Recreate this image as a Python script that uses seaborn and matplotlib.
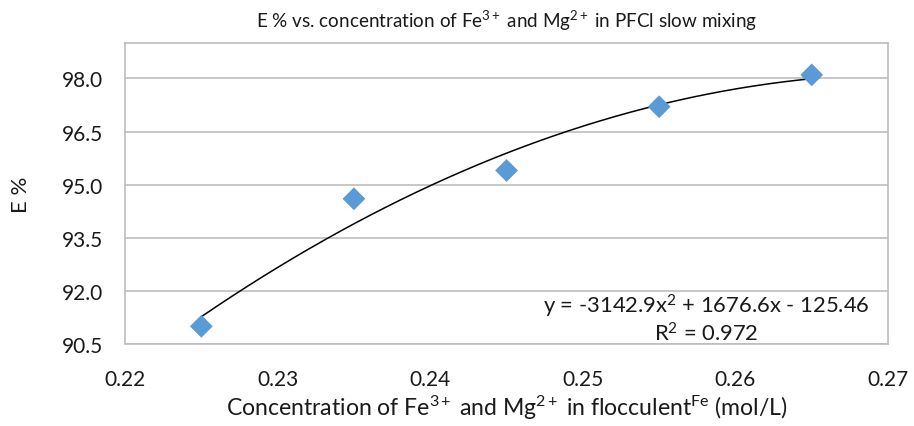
import matplotlib
matplotlib.use("Agg")
import matplotlib.pyplot as plt
import numpy as np
import pandas as pd
import seaborn as sns

# data
conc = [0.225, 0.235, 0.245, 0.255, 0.265]
e_pct = [91.0, 94.6, 95.4, 97.2, 98.1]
x_ticks = [0.22, 0.23, 0.24, 0.25, 0.26, 0.27]
y_ticks = [90.5, 92.0, 93.5, 95.0, 96.5, 98.0]
eq_text = "y = -3142.9x$^{\\mathrm{2}}$ + 1676.6x - 125.46\nR$^{\\mathrm{2}}$ = 0.972"

sns.set_style("white")
plt.rcParams['font.family'] = ['Lato', 'DejaVu Sans']
plt.rcParams['mathtext.fontset'] = 'custom'
plt.rcParams['mathtext.rm'] = 'Lato'
plt.rcParams['mathtext.it'] = 'Lato:italic'

df = pd.DataFrame({"conc": conc, "E": e_pct})

# quadratic trendline fitted to the points
coef = np.polyfit(df.conc, df.E, 2)
xs = np.linspace(min(conc), max(conc), 200)
trend = pd.DataFrame({"conc": xs, "E": np.polyval(coef, xs)})

fig = plt.figure(figsize=(9.14, 4.27), dpi=100)
ax = fig.add_axes([0.1368, 0.192, 0.8348, 0.705])

for y in y_ticks:
    ax.axhline(y, color="#bdbdbd", lw=1.2, zorder=0)

sns.lineplot(data=trend, x="conc", y="E", color="black", lw=1.1, ax=ax, zorder=2)
sns.scatterplot(data=df, x="conc", y="E", marker="D", s=135, color="#5b9bd5",
                edgecolor="none", ax=ax, zorder=3)

ax.set_xlim(0.22, 0.27)
ax.set_ylim(90.5, 99.0)
ax.set_xticks(x_ticks)
ax.set_xticklabels([f"{v:.2f}" for v in x_ticks])
ax.set_yticks(y_ticks)
ax.set_yticklabels([f"{v:.1f}" for v in y_ticks])
ax.tick_params(axis="both", labelsize=15, colors="#1a1a1a", length=7,
               width=1.2, direction="out")
ax.tick_params(axis="x", pad=11)
ax.tick_params(axis="y", pad=9)
ax.tick_params(axis="both", color="#bdbdbd")
for s in ax.spines.values():
    s.set_color("#bdbdbd")
    s.set_linewidth(1.2)

ax.set_xlabel("Concentration of Fe$^{\\mathrm{3+}}$ and Mg$^{\\mathrm{2+}}$ in flocculent$^{\\mathrm{Fe}}$ (mol/L)",
              fontsize=16.6, color="#1a1a1a", labelpad=3)
ax.set_ylabel("E %", fontsize=16, color="#1a1a1a", labelpad=22)
ax.set_title("E % vs. concentration of Fe$^{\\mathrm{3+}}$ and Mg$^{\\mathrm{2+}}$ in PFCl slow mixing",
             fontsize=13.6, color="#1a1a1a", pad=12)

ax.text(0.2581, 91.23, eq_text, ha="center", va="center", fontsize=15.8,
        color="#1a1a1a", linespacing=1.15)

fig.savefig("out.png", dpi=100)
